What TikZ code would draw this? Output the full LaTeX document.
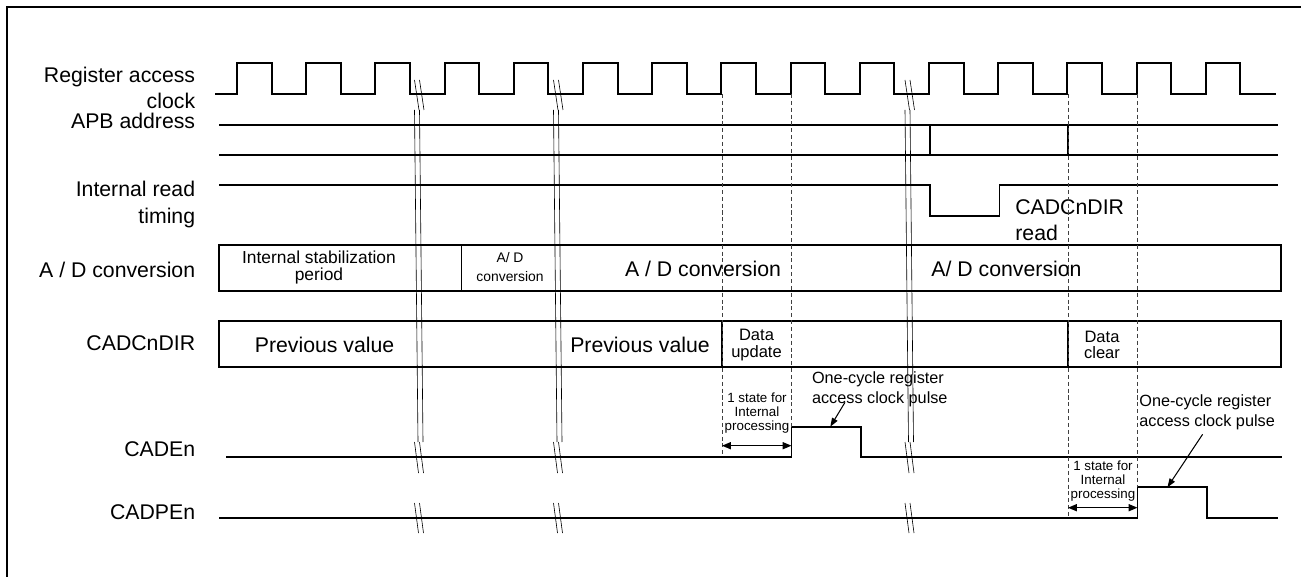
\documentclass[tikz,border=0pt]{standalone}
\usepackage{fontspec}
\setmainfont{Liberation Sans}
\usetikzlibrary{arrows.meta}

\begin{document}
\begin{tikzpicture}[x=0.02cm, y=-0.02cm,
    sig/.style={line width=1.1pt},
    brk/.style={line width=0.35pt},
    guide/.style={line width=0.5pt, black!75, dash pattern=on 2.3pt off 1.6pt},
    lbl/.style={font=\fontsize{12.1}{15.1}\selectfont, inner sep=0pt},
    note/.style={font=\fontsize{9.25}{11}\selectfont, align=left, inner sep=0pt},
    tiny/.style={font=\fontsize{7.6}{8.1}\selectfont, align=center, inner sep=0pt},
    span/.style={{Triangle[length=5pt,width=4pt]}-{Triangle[length=5pt,width=4pt]}, line width=0.7pt},
    ptr/.style={-{Triangle[length=5pt,width=3.5pt]}, line width=0.6pt}]

    \useasboundingbox (0,0) rectangle (1301,577);
    % Frame, only its top and left edges are inside the picture
    \draw[sig] (7.3,577) -- (7.3,7.3) -- (1301,7.3);

    % Signal names
    \node[lbl, anchor=east, align=right] (nclk) at (195.5,88) {Register access\\clock};
    \node[lbl, anchor=base east] (napb) at (195.5,128.3) {APB address};
    \node[lbl, anchor=east, align=right] (nrd) at (195.5,204.7) {Internal read\\timing};
    \node[lbl, anchor=base east] (nad) at (195.5,277.3) {A / D conversion};
    \node[lbl, anchor=base east] (ndir) at (195.5,350.7) {CADCnDIR};
    \node[lbl, anchor=base east] (nen) at (195.5,456.7) {CADEn};
    \node[lbl, anchor=base east] (npen) at (195.5,519) {CADPEn};

    % Register access clock
    \draw[sig] (215,94) foreach \k in {0,...,14} {
        -- ({237+69.2*\k},94) -- ({237+69.2*\k},63) -- ({271.6+69.2*\k},63) -- ({271.6+69.2*\k},94)
    } -- (1276,94);

    % APB address bus
    \draw[sig] (219,125) -- (1278,125);
    \draw[sig] (219,155) -- (1278,155);
    \draw[sig] (930,125) -- (930,155);
    \draw[sig] (1068,125) -- (1068,155);

    % Internal read timing
    \draw[sig] (219,185) -- (930,185) -- (930,215.7) -- (999.5,215.7) -- (999.5,185) -- (1278,185);
    \node[lbl, anchor=west, align=left, font=\fontsize{12.1}{14.6}\selectfont] (rdnote) at (1015,220.3) {CADCnDIR\\read};

    % A / D conversion
    \draw[sig] (219,245) rectangle (1281,290.7);
    \draw[sig] (461.5,245) -- (461.5,290.7);
    \node[align=center, inner sep=0pt, font=\fontsize{9.9}{9.5}\selectfont] (stab) at (319,267.5) {Internal stabilization\\period};
    \node[align=center, inner sep=0pt, font=\fontsize{7.9}{10.4}\selectfont] (adshort) at (510,267) {A/ D\\conversion};
    \node[lbl, anchor=base] (adlong) at (703,276.7) {A / D conversion};
    \node[lbl, anchor=base] (adlongb) at (1006.5,276.7) {A/ D conversion};

    % CADCnDIR
    \draw[sig] (219,321) rectangle (1281,366.7);
    \draw[sig] (722,321) -- (722,366.7);
    \draw[sig] (1068,321) -- (1068,366.7);
    \node[lbl, anchor=base] (prev) at (324.6,352.5) {Previous value};
    \node[lbl, anchor=base] (prevb) at (640,352.5) {Previous value};
    \node[align=center, inner sep=0pt, font=\fontsize{9.4}{9.5}\selectfont] (upd) at (756.5,345.3) {Data\\update};
    \node[align=center, inner sep=0pt, font=\fontsize{9.4}{9.5}\selectfont] (clr) at (1102,345) {Data\\clear};

    % CADEn and CADPEn
    \draw[sig] (226,456.7) -- (791.5,456.7) -- (791.5,426.7) -- (860.6,426.7) -- (860.6,456.7) -- (1282,456.7);
    \draw[sig] (219,517.7) -- (1137.5,517.7) -- (1137.5,487.3) -- (1206.8,487.3) -- (1206.8,517.7) -- (1278,517.7);

    % Dashed guides on the clock edges
    \foreach \gx/\gy in {722/456.7, 791.5/426.7, 1068/517.7, 1137.5/487.3}
        \draw[guide] (\gx,94) -- (\gx,\gy);

    % Time breaks
    \foreach \bx in {414.5,553.5,905} {
        \foreach \d in {0,5} {
            \draw[brk] ({\bx+\d},80) -- ({\bx+\d+4.5},110);
            \draw[brk] ({\bx+\d},110) -- ({\bx+\d+3.5},442);
            \draw[brk] ({\bx+\d},442) -- ({\bx+\d+4},473);
            \draw[brk] ({\bx+\d},503) -- ({\bx+\d+4},533);
        }
    }

    % Internal processing state
    \node[tiny] (state) at (757,413.3) {1 state for\\Internal\\processing};
    \node[tiny] (stateb) at (1103,481.3) {1 state for\\Internal\\processing};
    \coordinate (upda) at (722,445.7);
    \coordinate (updb) at (791.5,445.7);
    \coordinate (clra) at (1068,507.7);
    \coordinate (clrb) at (1137.5,507.7);
    \draw[span] (upda) -- (updb);
    \draw[span] (clra) -- (clrb);

    % One-cycle pulse notes
    \node[note, anchor=west] (pulse) at (811.7,389.2) {One-cycle register\\access clock pulse};
    \node[note, anchor=west] (pulseb) at (1139,412.2) {One-cycle register\\access clock pulse};
    \coordinate (pulsetail) at (845,402.3);
    \coordinate (pulsetop) at (830.3,426.7);
    \coordinate (pulsetailb) at (1202.6,434.3);
    \coordinate (pulsetopb) at (1167.4,487.3);
    \draw[ptr] (pulsetail) -- (pulsetop);
    \draw[ptr] (pulsetailb) -- (pulsetopb);
\end{tikzpicture}
\end{document}
